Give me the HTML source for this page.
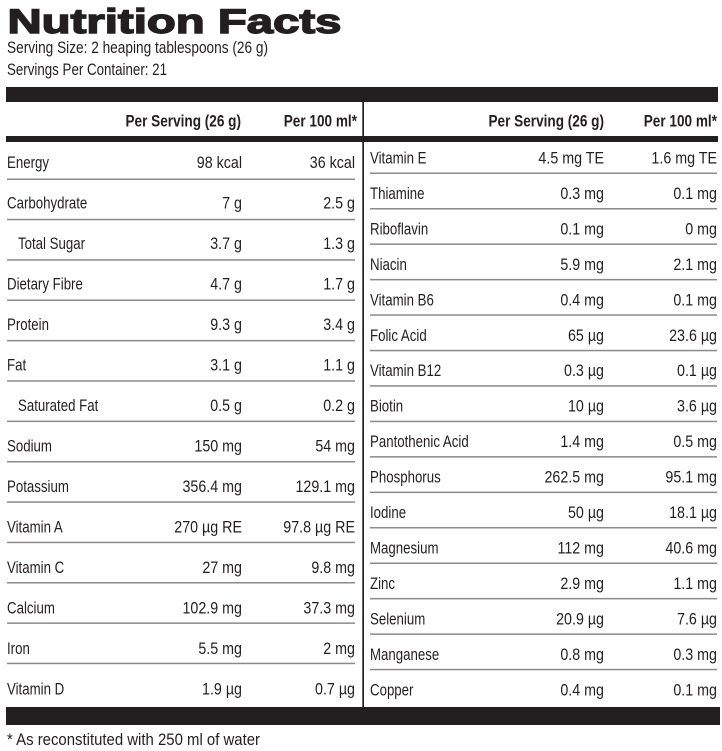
<!DOCTYPE html>
<html><head><meta charset="utf-8"><style>
html,body{margin:0;padding:0;background:#fff;}
svg{display:block;}
text{font-family:"Liberation Sans",sans-serif;fill:#231f20;}
.l{font-size:17px;}
.v{font-size:17px;text-anchor:end;}
.h{font-size:17px;font-weight:bold;text-anchor:end;}
</style></head><body>
<svg width="722" height="751" viewBox="0 0 722 751" xmlns="http://www.w3.org/2000/svg">
<text x="7.5" y="33" font-size="34" font-weight="bold" stroke="#231f20" stroke-width="1.4" textLength="334" lengthAdjust="spacingAndGlyphs">Nutrition Facts</text>
<text x="7" y="53" font-size="17" textLength="261" lengthAdjust="spacingAndGlyphs">Serving Size: 2 heaping tablespoons (26 g)</text>
<text x="7" y="75" font-size="17" textLength="160" lengthAdjust="spacingAndGlyphs">Servings Per Container: 21</text>

<rect x="6" y="87" width="712" height="15" fill="#231f20"/>
<rect x="6" y="136" width="712" height="6" fill="#231f20"/>
<rect x="6" y="707" width="714" height="18" fill="#231f20"/>
<rect x="362.3" y="102" width="1.7" height="605" fill="#231f20"/>

<g>
<text class="h" transform="translate(241,126.5) scale(0.8,1)">Per Serving (26 g)</text>
<text class="h" transform="translate(357,126.5) scale(0.8,1)">Per 100 ml*</text>
<text class="h" transform="translate(604,126.5) scale(0.8,1)">Per Serving (26 g)</text>
<text class="h" transform="translate(717,126.5) scale(0.8,1)">Per 100 ml*</text>
</g>

<g fill="#8a8a8a">
<rect x="7" y="178.5" width="348" height="1.5"/>
<rect x="7" y="218.8" width="348" height="1.5"/>
<rect x="7" y="259.2" width="348" height="1.5"/>
<rect x="7" y="299.5" width="348" height="1.5"/>
<rect x="7" y="339.9" width="348" height="1.5"/>
<rect x="7" y="380.2" width="348" height="1.5"/>
<rect x="7" y="420.6" width="348" height="1.5"/>
<rect x="7" y="461.0" width="348" height="1.5"/>
<rect x="7" y="501.3" width="348" height="1.5"/>
<rect x="7" y="541.7" width="348" height="1.5"/>
<rect x="7" y="582.0" width="348" height="1.5"/>
<rect x="7" y="622.4" width="348" height="1.5"/>
<rect x="7" y="662.7" width="348" height="1.5"/>

<rect x="370" y="172.5" width="347" height="1.5"/>
<rect x="370" y="208.0" width="347" height="1.5"/>
<rect x="370" y="243.4" width="347" height="1.5"/>
<rect x="370" y="278.9" width="347" height="1.5"/>
<rect x="370" y="314.3" width="347" height="1.5"/>
<rect x="370" y="349.8" width="347" height="1.5"/>
<rect x="370" y="385.2" width="347" height="1.5"/>
<rect x="370" y="420.7" width="347" height="1.5"/>
<rect x="370" y="456.1" width="347" height="1.5"/>
<rect x="370" y="491.6" width="347" height="1.5"/>
<rect x="370" y="527.0" width="347" height="1.5"/>
<rect x="370" y="562.5" width="347" height="1.5"/>
<rect x="370" y="597.9" width="347" height="1.5"/>
<rect x="370" y="633.4" width="347" height="1.5"/>
<rect x="370" y="668.8" width="347" height="1.5"/>
</g>

<!-- Left table -->
<text class="l" transform="translate(7,168) scale(0.78,1)">Energy</text>
<text class="v" transform="translate(242,168) scale(0.84,1)">98 kcal</text>
<text class="v" transform="translate(355,168) scale(0.84,1)">36 kcal</text>

<text class="l" transform="translate(7,208.5) scale(0.78,1)">Carbohydrate</text>
<text class="v" transform="translate(242,208.5) scale(0.84,1)">7 g</text>
<text class="v" transform="translate(355,208.5) scale(0.84,1)">2.5 g</text>

<text class="l" transform="translate(18,249) scale(0.78,1)">Total Sugar</text>
<text class="v" transform="translate(242,249) scale(0.84,1)">3.7 g</text>
<text class="v" transform="translate(355,249) scale(0.84,1)">1.3 g</text>

<text class="l" transform="translate(7,289.5) scale(0.78,1)">Dietary Fibre</text>
<text class="v" transform="translate(242,289.5) scale(0.84,1)">4.7 g</text>
<text class="v" transform="translate(355,289.5) scale(0.84,1)">1.7 g</text>

<text class="l" transform="translate(7,330) scale(0.78,1)">Protein</text>
<text class="v" transform="translate(242,330) scale(0.84,1)">9.3 g</text>
<text class="v" transform="translate(355,330) scale(0.84,1)">3.4 g</text>

<text class="l" transform="translate(7,370.5) scale(0.78,1)">Fat</text>
<text class="v" transform="translate(242,370.5) scale(0.84,1)">3.1 g</text>
<text class="v" transform="translate(355,370.5) scale(0.84,1)">1.1 g</text>

<text class="l" transform="translate(18,411) scale(0.78,1)">Saturated Fat</text>
<text class="v" transform="translate(242,411) scale(0.84,1)">0.5 g</text>
<text class="v" transform="translate(355,411) scale(0.84,1)">0.2 g</text>

<text class="l" transform="translate(7,451.5) scale(0.78,1)">Sodium</text>
<text class="v" transform="translate(242,451.5) scale(0.84,1)">150 mg</text>
<text class="v" transform="translate(355,451.5) scale(0.84,1)">54 mg</text>

<text class="l" transform="translate(7,492) scale(0.78,1)">Potassium</text>
<text class="v" transform="translate(242,492) scale(0.84,1)">356.4 mg</text>
<text class="v" transform="translate(355,492) scale(0.84,1)">129.1 mg</text>

<text class="l" transform="translate(7,532.5) scale(0.78,1)">Vitamin A</text>
<text class="v" transform="translate(242,532.5) scale(0.84,1)">270 µg RE</text>
<text class="v" transform="translate(355,532.5) scale(0.84,1)">97.8 µg RE</text>

<text class="l" transform="translate(7,573) scale(0.78,1)">Vitamin C</text>
<text class="v" transform="translate(242,573) scale(0.84,1)">27 mg</text>
<text class="v" transform="translate(355,573) scale(0.84,1)">9.8 mg</text>

<text class="l" transform="translate(7,613.5) scale(0.78,1)">Calcium</text>
<text class="v" transform="translate(242,613.5) scale(0.84,1)">102.9 mg</text>
<text class="v" transform="translate(355,613.5) scale(0.84,1)">37.3 mg</text>

<text class="l" transform="translate(7,654) scale(0.78,1)">Iron</text>
<text class="v" transform="translate(242,654) scale(0.84,1)">5.5 mg</text>
<text class="v" transform="translate(355,654) scale(0.84,1)">2 mg</text>

<text class="l" transform="translate(7,694.5) scale(0.78,1)">Vitamin D</text>
<text class="v" transform="translate(242,694.5) scale(0.84,1)">1.9 µg</text>
<text class="v" transform="translate(355,694.5) scale(0.84,1)">0.7 µg</text>

<!-- Right table -->
<text class="l" transform="translate(370,163.5) scale(0.78,1)">Vitamin E</text>
<text class="v" transform="translate(604,163.5) scale(0.84,1)">4.5 mg TE</text>
<text class="v" transform="translate(717,163.5) scale(0.84,1)">1.6 mg TE</text>

<text class="l" transform="translate(370,199) scale(0.78,1)">Thiamine</text>
<text class="v" transform="translate(604,199) scale(0.84,1)">0.3 mg</text>
<text class="v" transform="translate(717,199) scale(0.84,1)">0.1 mg</text>

<text class="l" transform="translate(370,234.4) scale(0.78,1)">Riboflavin</text>
<text class="v" transform="translate(604,234.4) scale(0.84,1)">0.1 mg</text>
<text class="v" transform="translate(717,234.4) scale(0.84,1)">0 mg</text>

<text class="l" transform="translate(370,269.9) scale(0.78,1)">Niacin</text>
<text class="v" transform="translate(604,269.9) scale(0.84,1)">5.9 mg</text>
<text class="v" transform="translate(717,269.9) scale(0.84,1)">2.1 mg</text>

<text class="l" transform="translate(370,305.3) scale(0.78,1)">Vitamin B6</text>
<text class="v" transform="translate(604,305.3) scale(0.84,1)">0.4 mg</text>
<text class="v" transform="translate(717,305.3) scale(0.84,1)">0.1 mg</text>

<text class="l" transform="translate(370,340.8) scale(0.78,1)">Folic Acid</text>
<text class="v" transform="translate(604,340.8) scale(0.84,1)">65 µg</text>
<text class="v" transform="translate(717,340.8) scale(0.84,1)">23.6 µg</text>

<text class="l" transform="translate(370,376.2) scale(0.78,1)">Vitamin B12</text>
<text class="v" transform="translate(604,376.2) scale(0.84,1)">0.3 µg</text>
<text class="v" transform="translate(717,376.2) scale(0.84,1)">0.1 µg</text>

<text class="l" transform="translate(370,411.7) scale(0.78,1)">Biotin</text>
<text class="v" transform="translate(604,411.7) scale(0.84,1)">10 µg</text>
<text class="v" transform="translate(717,411.7) scale(0.84,1)">3.6 µg</text>

<text class="l" transform="translate(370,447.1) scale(0.78,1)">Pantothenic Acid</text>
<text class="v" transform="translate(604,447.1) scale(0.84,1)">1.4 mg</text>
<text class="v" transform="translate(717,447.1) scale(0.84,1)">0.5 mg</text>

<text class="l" transform="translate(370,482.6) scale(0.78,1)">Phosphorus</text>
<text class="v" transform="translate(604,482.6) scale(0.84,1)">262.5 mg</text>
<text class="v" transform="translate(717,482.6) scale(0.84,1)">95.1 mg</text>

<text class="l" transform="translate(370,518) scale(0.78,1)">Iodine</text>
<text class="v" transform="translate(604,518) scale(0.84,1)">50 µg</text>
<text class="v" transform="translate(717,518) scale(0.84,1)">18.1 µg</text>

<text class="l" transform="translate(370,553.5) scale(0.78,1)">Magnesium</text>
<text class="v" transform="translate(604,553.5) scale(0.84,1)">112 mg</text>
<text class="v" transform="translate(717,553.5) scale(0.84,1)">40.6 mg</text>

<text class="l" transform="translate(370,588.9) scale(0.78,1)">Zinc</text>
<text class="v" transform="translate(604,588.9) scale(0.84,1)">2.9 mg</text>
<text class="v" transform="translate(717,588.9) scale(0.84,1)">1.1 mg</text>

<text class="l" transform="translate(370,624.4) scale(0.78,1)">Selenium</text>
<text class="v" transform="translate(604,624.4) scale(0.84,1)">20.9 µg</text>
<text class="v" transform="translate(717,624.4) scale(0.84,1)">7.6 µg</text>

<text class="l" transform="translate(370,659.8) scale(0.78,1)">Manganese</text>
<text class="v" transform="translate(604,659.8) scale(0.84,1)">0.8 mg</text>
<text class="v" transform="translate(717,659.8) scale(0.84,1)">0.3 mg</text>

<text class="l" transform="translate(370,695.3) scale(0.78,1)">Copper</text>
<text class="v" transform="translate(604,695.3) scale(0.84,1)">0.4 mg</text>
<text class="v" transform="translate(717,695.3) scale(0.84,1)">0.1 mg</text>

<text x="7" y="745" font-size="17" textLength="253" lengthAdjust="spacingAndGlyphs">* As reconstituted with 250 ml of water</text>
</svg>
</body></html>
